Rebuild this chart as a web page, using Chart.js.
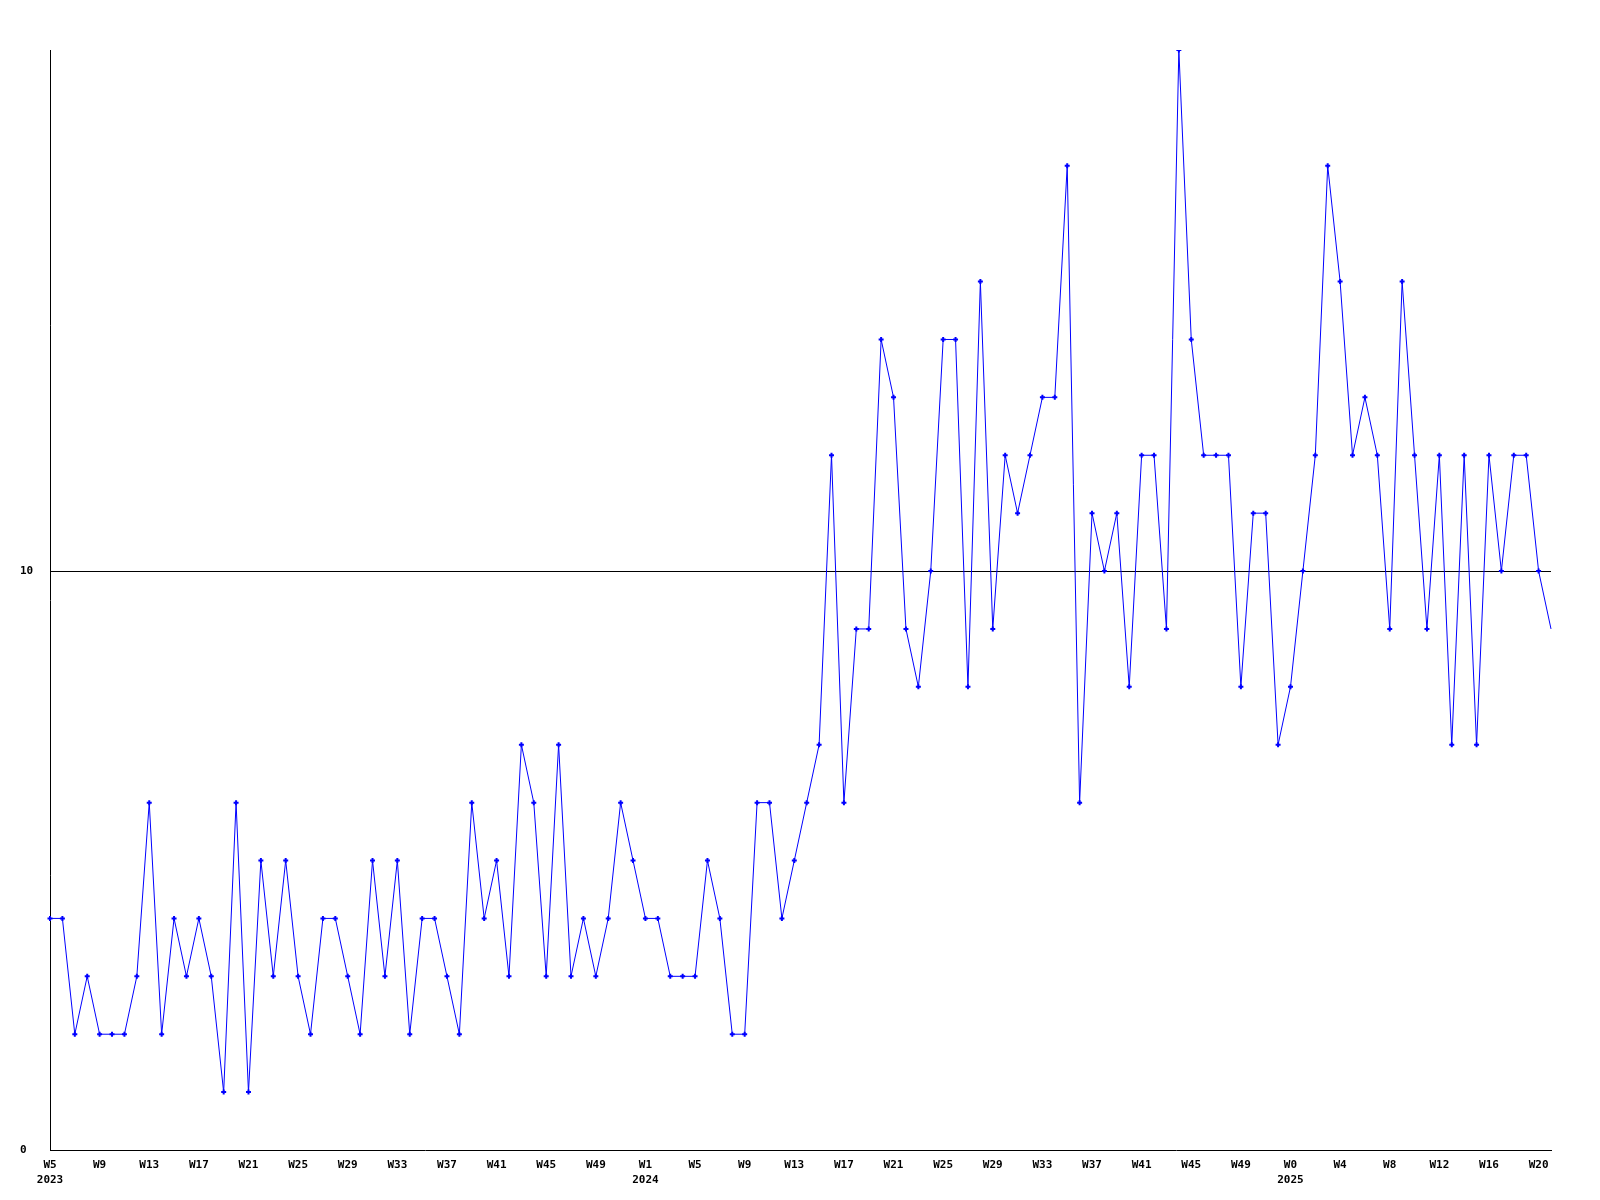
<!DOCTYPE html>
<html>
<head>
<meta charset="utf-8">
<script src="https://cdn.jsdelivr.net/npm/chart.js@4/dist/chart.umd.min.js"></script>
<style>
  html, body { margin: 0; padding: 0; background: #fff; }
  #wrap { width: 1600px; height: 1200px; }
</style>
</head>
<body>
<div id="wrap"><canvas id="weeklyChart"></canvas></div>
<script>
// week ranges per year (%W style numbering, 2025 starts at W0)
const years = [2023, 2024, 2025];
const firstWeek = [5, 1, 0];
const lastWeek = [52, 52, 21];

// weekly counts
const counts = [
  4, 4, 2, 3, 2, 2, 2, 3, 6, 2, 4, 3, 4, 3, 1, 6, 1, 5, 3, 5,
  3, 2, 4, 4, 3, 2, 5, 3, 5, 2, 4, 4, 3, 2, 6, 4, 5, 3, 7, 6,
  3, 7, 3, 4, 3, 4, 6, 5,
  4, 4, 3, 3, 3, 5, 4, 2, 2, 6, 6, 4, 5, 6, 7, 12, 6, 9, 9, 14,
  13, 9, 8, 10, 14, 14, 8, 15, 9, 12, 11, 12, 13, 13, 17, 6, 11, 10, 11, 8,
  12, 12, 9, 19, 14, 12, 12, 12, 8, 11, 11, 7,
  8, 10, 12, 17, 15, 12, 13, 12, 9, 15, 12, 9, 12, 7, 12, 7, 12, 10, 12, 12,
  10, 9
];

const yTicks = [0, 10];
const yMax = 19;

const labels = [];
const yearStart = {};
years.forEach((y, i) => {
  yearStart[labels.length] = String(y);
  for (let w = firstWeek[i]; w <= lastWeek[i]; w++) labels.push('W' + w);
});

const tickFont = { family: "'DejaVu Sans Mono', monospace", size: 11, weight: 'bold', lineHeight: 1.35 };

const ctx = document.getElementById('weeklyChart').getContext('2d');
new Chart(ctx, {
  type: 'line',
  data: {
    labels: labels,
    datasets: [{
      data: counts,
      borderColor: 'rgb(0,0,255)',
      backgroundColor: 'rgb(0,0,255)',
      borderWidth: 1,
      tension: 0,
      pointStyle: 'cross',
      pointBorderWidth: 2,
      pointRadius: (c) => c.dataIndex === counts.length - 1 ? 0 : 2.5,
      pointHoverRadius: 2.5
    }]
  },
  options: {
    responsive: true,
    maintainAspectRatio: false,
    animation: false,
    layout: { padding: { top: 50, left: 20, right: 49, bottom: 0 } },
    plugins: { legend: { display: false }, tooltip: { enabled: false } },
    scales: {
      x: {
        offset: false,
        grid: { display: false },
        border: { display: true, color: '#000', width: 1 },
        afterFit: (s) => { s.height = 50; },
        ticks: {
          autoSkip: false,
          maxRotation: 0,
          minRotation: 0,
          padding: 0,
          color: '#000',
          font: tickFont,
          callback: function (value, index) {
            if (index % 4 !== 0) return null;
            const lab = labels[index];
            return yearStart[index] ? [lab, yearStart[index]] : lab;
          }
        }
      },
      y: {
        min: 0,
        max: yMax,
        afterBuildTicks: (s) => { s.ticks = yTicks.map(v => ({ value: v })); },
        afterFit: (s) => { s.width = 30; },
        grid: {
          drawTicks: false,
          color: (c) => c.tick && c.tick.value === 10 ? '#000' : 'rgba(0,0,0,0)',
          lineWidth: 1
        },
        border: { display: true, color: '#000', width: 1 },
        ticks: {
          crossAlign: 'far',
          padding: 0,
          color: '#000',
          font: { family: "'DejaVu Sans Mono', monospace", size: 11, weight: 'bold' }
        }
      }
    }
  }
});
</script>
</body>
</html>
